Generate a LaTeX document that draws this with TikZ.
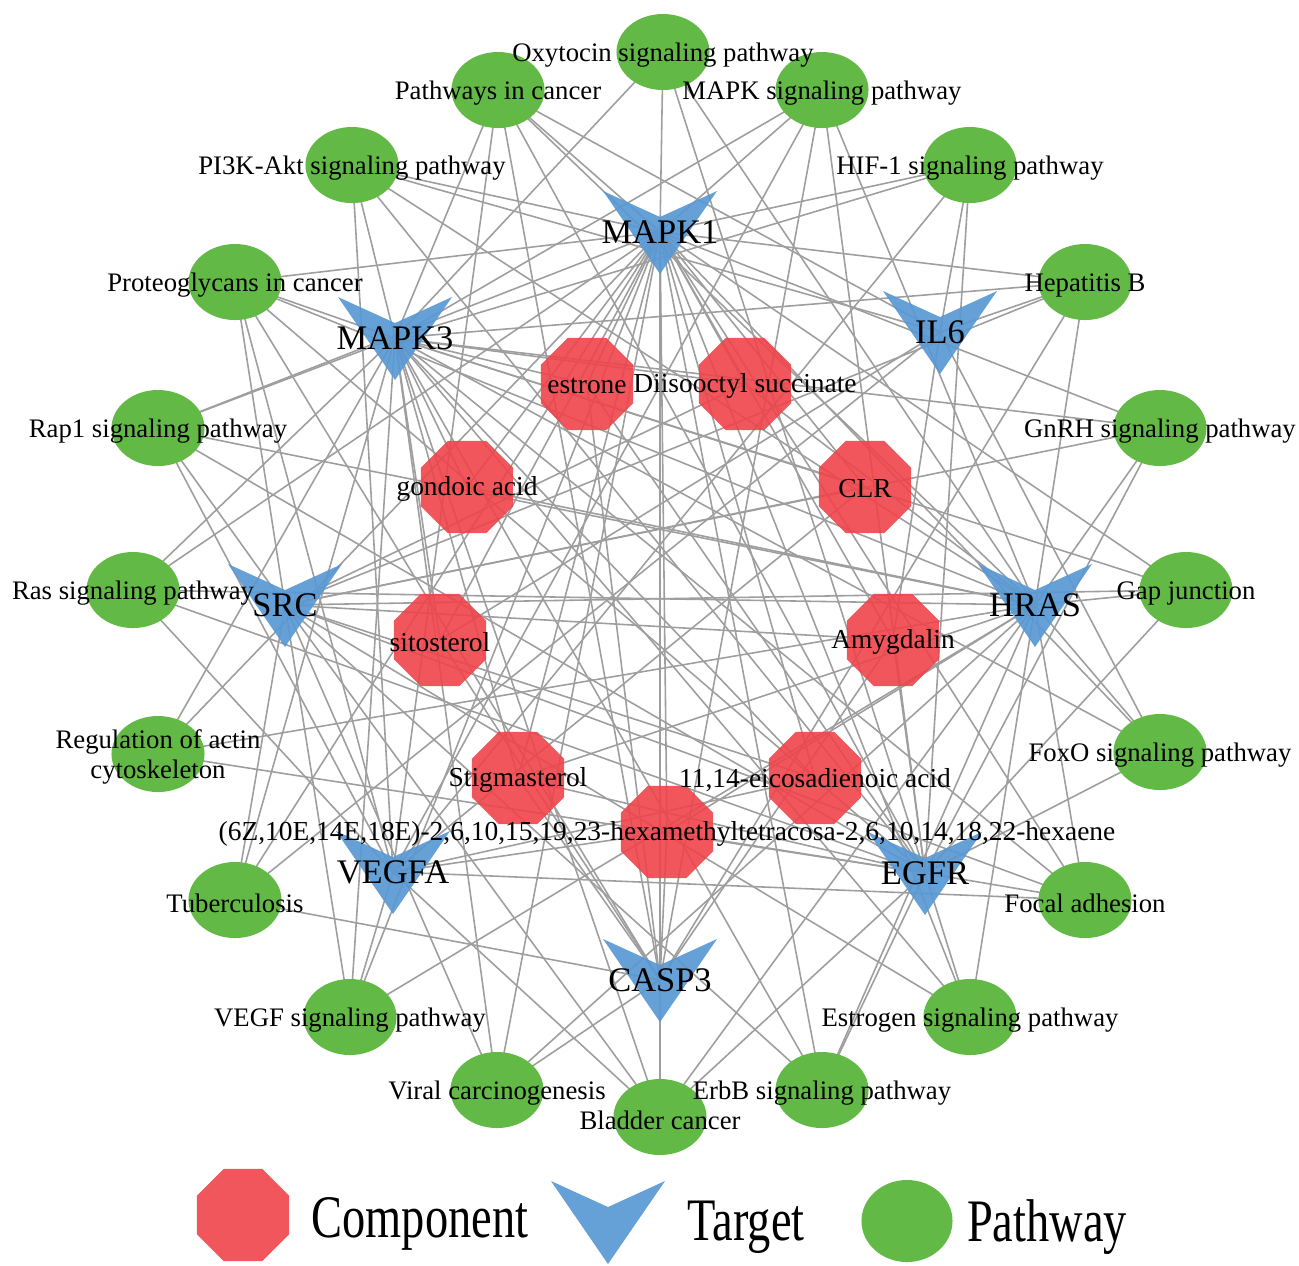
\documentclass[tikz,border=0pt]{standalone}
\usepackage{fontspec}
\setmainfont{Liberation Serif}
\usetikzlibrary{shapes.geometric,backgrounds}

\pgfdeclarelayer{front}
\pgfsetlayers{background,main,front}

\definecolor{cpred}{RGB}{238,68,74}
\definecolor{tgblue}{RGB}{88,152,212}
\definecolor{pwgreen}{RGB}{98,185,70}
\definecolor{linkgray}{RGB}{158,158,158}

\tikzset{
  link/.style={color=linkgray, line width=0.45pt},
  pathway/.style={ellipse, fill=pwgreen, minimum width=0.93cm, minimum height=0.76cm, inner sep=0pt},
  comp/.style={regular polygon, regular polygon sides=8, fill=cpred, fill opacity=0.9, minimum size=1.0cm, inner sep=0pt},
  tgfill/.style={fill=tgblue, fill opacity=0.92},
  tglabel/.style={font=\fontsize{9.8}{10}\selectfont, inner sep=0pt},
  pwtext/.style={font=\fontsize{7.6}{8.6}\selectfont, align=center, inner sep=0pt, yshift=-0.03cm},
  cptext/.style={font=\fontsize{7.8}{8.6}\selectfont, inner sep=0pt, yshift=-0.02cm},
  legtext/.style={font=\fontsize{13.2}{14}\selectfont, inner sep=0pt}
}

\begin{document}
\begin{tikzpicture}[x=0.01cm, y=-0.01cm]
\useasboundingbox (0,0) rectangle (1299,1265);

% pathways
\foreach \n/\x/\y/\t in {oxy/663/52/Oxytocin signaling pathway, pic/498/90/Pathways in cancer,
  mapk/822/90/MAPK signaling pathway, pi3k/352/165/PI3K-Akt signaling pathway,
  hif/970/165/HIF-1 signaling pathway, pgc/235/282/Proteoglycans in cancer,
  hepb/1085/282/Hepatitis B, rap1/158/428/Rap1 signaling pathway,
  gnrh/1160/428/GnRH signaling pathway, ras/133/590/Ras signaling pathway,
  gap/1186/590/Gap junction, actin/158/754/Regulation of actin\\cytoskeleton,
  foxo/1160/752/FoxO signaling pathway, tb/235/900/Tuberculosis,
  fa/1085/900/Focal adhesion, vegf/350/1017/VEGF signaling pathway,
  estr/970/1017/Estrogen signaling pathway, viral/497/1090/Viral carcinogenesis,
  erbb/822/1090/ErbB signaling pathway, bladder/660/1117/Bladder cancer}{
  \node[pathway] (\n) at (\x,\y) {};
  \begin{pgfonlayer}{front}
    \node[pwtext] (\n-t) at (\n) {\t};
  \end{pgfonlayer}
}

% components
\foreach \n/\x/\y/\t in {estrone/587/384/estrone, diiso/745/384/Diisooctyl succinate,
  gondoic/467/487/gondoic acid, clr/865/487/CLR, sito/440/640/sitosterol,
  amyg/893/640/Amygdalin, stigma/518/778/Stigmasterol,
  eico/815/778/{11,14-eicosadienoic acid},
  hexa/667/832/{(6Z,10E,14E,18E)-2,6,10,15,19,23-hexamethyltetracosa-2,6,10,14,18,22-hexaene}}{
  \node[comp] (\n) at (\x,\y) {};
  \begin{pgfonlayer}{front}
    \node[cptext] (\n-t) at (\n) {\t};
  \end{pgfonlayer}
}

% targets
\foreach \n/\x/\y/\t in {mapk1/660/232/MAPK1, il6/940/332/IL6, mapk3/395/338/MAPK3,
  src/285/605/SRC, hras/1035/605/HRAS, vegfa/393/872/VEGFA, egfr/925/873/EGFR,
  casp3/660/980/CASP3}{
  \fill[tgfill] (\x,\y) ++(-57,-41) -- ++(57,26) -- ++(57,-26) -- ++(-57,83) -- cycle;
  \node[tglabel] (\n) at (\x,\y) {\t};
}

\begin{scope}[on background layer]
\foreach \a/\blist in {
  mapk1/{oxy,pic,mapk,pi3k,hif,pgc,hepb,rap1,gnrh,ras,gap,actin,foxo,tb,fa,vegf,estr,viral,erbb,bladder},
  mapk3/{oxy,pic,mapk,pi3k,hif,pgc,hepb,rap1,gnrh,ras,gap,actin,foxo,tb,fa,vegf,estr,viral,erbb,bladder},
  il6/{pic,pi3k,hif,hepb,foxo,tb},
  src/{pgc,hepb,rap1,gnrh,gap,tb,fa,vegf,estr,viral,erbb,bladder},
  hras/{oxy,pic,mapk,pi3k,pgc,hepb,rap1,gnrh,ras,gap,actin,foxo,fa,vegf,estr,viral,erbb,bladder},
  vegfa/{pic,mapk,pi3k,hif,pgc,rap1,ras,fa,vegf,bladder},
  egfr/{oxy,pic,mapk,pi3k,hif,pgc,rap1,gnrh,ras,gap,actin,foxo,fa,estr,erbb,bladder},
  casp3/{pic,mapk,pgc,hepb,tb,viral},
  estrone/{mapk1,mapk3,egfr,casp3},
  diiso/{mapk1,mapk3,hras,src},
  gondoic/{mapk1,mapk3,hras},
  clr/{mapk1,mapk3,src,vegfa},
  sito/{mapk1,mapk3,casp3,il6},
  amyg/{mapk1,il6,casp3,egfr,src},
  stigma/{mapk1,mapk3,casp3,egfr,hras},
  eico/{mapk1,mapk3,src,vegfa},
  hexa/{mapk1,casp3,egfr,hras,vegfa}}{
  \foreach \b in \blist
    \draw[link] (\a.center) -- (\b.center);
}
\end{scope}

% legend
\node[comp] (lgc) at (243,1215) {};
\node[legtext] (lgc-t) at (420,1224) {\scalebox{1}[1.3]{Component}};
\fill[tgfill] (608,1222) ++(-57,-41) -- ++(57,26) -- ++(57,-26) -- ++(-57,83) -- cycle;
\node[inner sep=0pt] (lgt) at (608,1222) {};
\node[legtext] (lgt-t) at (746,1227) {\scalebox{1}[1.3]{Target}};
\node[pathway, minimum width=0.91cm, minimum height=0.82cm] (lgp) at (907,1221) {};
\node[legtext] (lgp-t) at (1047,1227) {\scalebox{1}[1.3]{Pathway}};

\end{tikzpicture}
\end{document}
